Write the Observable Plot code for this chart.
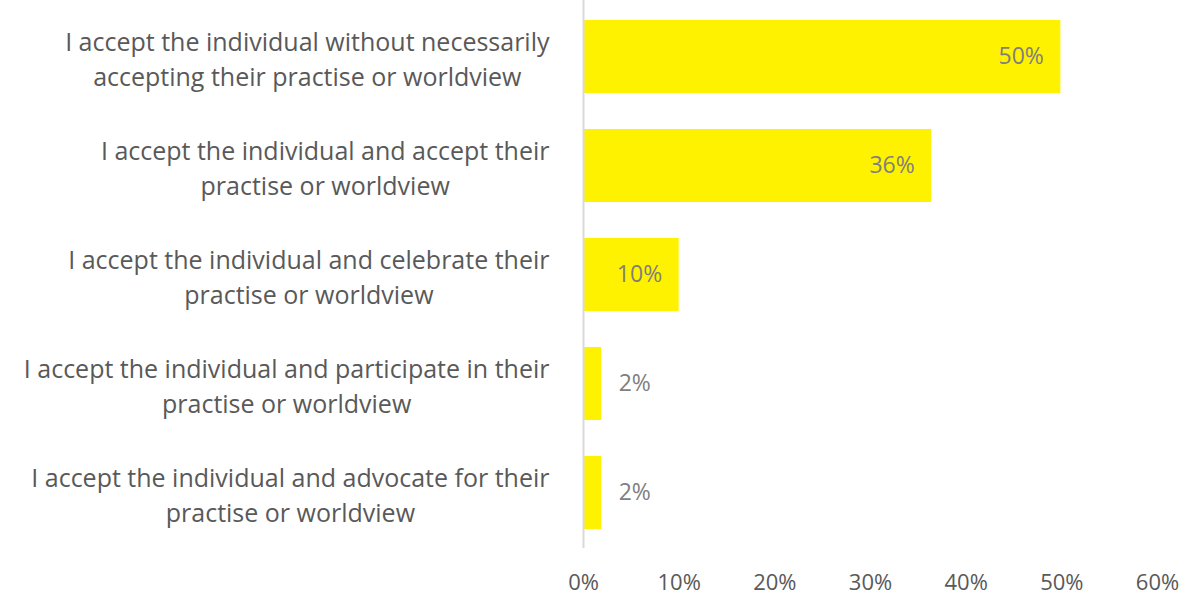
<!DOCTYPE html>
<html><head><meta charset="utf-8">
<script src="https://cdn.jsdelivr.net/npm/d3@7"></script>
<script src="https://cdn.jsdelivr.net/npm/@observablehq/plot@0.6"></script>
<style>body{margin:0;background:#fff;font-family:"Open Sans",sans-serif}</style>
</head><body><div id="chart"></div>
<script>
const categories = [
  "I accept the individual without necessarily\naccepting their practise or worldview",
  "I accept the individual and accept their\npractise or worldview",
  "I accept the individual and celebrate their\npractise or worldview",
  "I accept the individual and participate in their\npractise or worldview",
  "I accept the individual and advocate for their\npractise or worldview"
];
const values = [49.9, 36.4, 10, 1.9, 1.9];
const valueLabels = ["50%", "36%", "10%", "2%", "2%"];
const xTicks = [0, 10, 20, 30, 40, 50, 60];

const data = categories.map((c, i) => ({cat: c, v: values[i], lab: valueLabels[i]}));
const font = '"Open Sans", sans-serif';
const fs = 25;
const ctx = document.createElement("canvas").getContext("2d");
ctx.font = `${fs}px ${font}`;
const blockW = categories.map(c => Math.max(...c.split("\n").map(l => ctx.measureText(l).width)));

const labelMarks = data.map((d, i) => Plot.text([d], {
  x: () => 0, y: "cat", text: "cat", textAnchor: "middle",
  dx: -(34 + blockW[i] / 2), lineHeight: 35 / fs, fontSize: fs, fill: "#595959"
}));

const chart = Plot.plot({
  width: 1183, height: 600,
  marginLeft: 583, marginRight: 26, marginTop: 0, marginBottom: 52,
  style: {fontFamily: font, background: "#fff"},
  x: {domain: [0, 60], ticks: xTicks, tickFormat: d => d + "%", label: null},
  y: {domain: categories, paddingInner: 0.333, paddingOuter: 0.1667, axis: null},
  marks: [
    Plot.barX(data, {x: "v", y: "cat", fill: "#FFF200"}),
    Plot.ruleX([0], {stroke: "#d9d9d9", strokeWidth: 2}),
    Plot.axisX({ticks: xTicks, tickFormat: d => d + "%", tickSize: 0, tickPadding: 26, fontSize: 22, fill: "#595959", label: null}),
    ...labelMarks,
    Plot.text(data.filter(d => d.v >= 5), {x: "v", y: "cat", text: "lab", textAnchor: "end", dx: -17, fontSize: 23, fill: "#7f7f7f"}),
    Plot.text(data.filter(d => d.v < 5), {x: "v", y: "cat", text: "lab", textAnchor: "start", dx: 17, fontSize: 23, fill: "#7f7f7f"})
  ]
});
document.getElementById("chart").appendChild(chart);
</script></body></html>
